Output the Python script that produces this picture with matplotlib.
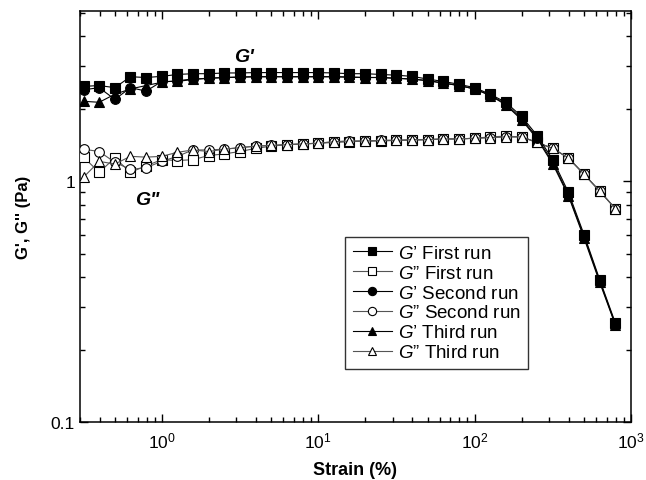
import matplotlib
matplotlib.use("Agg")
import matplotlib.pyplot as plt
from matplotlib.ticker import LogLocator, FixedLocator, FixedFormatter, NullFormatter

plt.rcParams['font.family'] = ['Liberation Sans', 'DejaVu Sans']
plt.rcParams['mathtext.fontset'] = 'custom'
plt.rcParams['mathtext.rm'] = 'Liberation Sans'
plt.rcParams['mathtext.it'] = 'Liberation Sans:italic'
plt.rcParams['mathtext.bf'] = 'Liberation Sans:bold'

# Strain amplitude sweep (%)
strain = [0.316, 0.398, 0.501, 0.631, 0.794, 1.0, 1.26, 1.58, 2.0, 2.51,
          3.16, 3.98, 5.01, 6.31, 7.94, 10.0, 12.6, 15.8, 20.0, 25.1,
          31.6, 39.8, 50.1, 63.1, 79.4, 100.0, 126.0, 158.0, 200.0, 251.0,
          316.0, 398.0, 501.0, 631.0, 794.0]

# Storage modulus G' (Pa)
gp_run1 = [2.48, 2.50, 2.45, 2.72, 2.70, 2.73, 2.78, 2.80, 2.80, 2.82,
           2.82, 2.83, 2.83, 2.83, 2.83, 2.83, 2.82, 2.80, 2.80, 2.78,
           2.76, 2.73, 2.66, 2.60, 2.53, 2.45, 2.30, 2.13, 1.86, 1.55,
           1.23, 0.90, 0.60, 0.39, 0.258]
gp_run2 = [2.40, 2.45, 2.19, 2.45, 2.37, 2.60, 2.60, 2.65, 2.68, 2.70,
           2.71, 2.72, 2.72, 2.72, 2.72, 2.72, 2.72, 2.71, 2.70, 2.70,
           2.68, 2.66, 2.62, 2.56, 2.50, 2.42, 2.28, 2.10, 1.82, 1.52,
           1.20, 0.88, 0.59, 0.385, 0.255]
gp_run3 = [2.15, 2.13, 2.30, 2.42, 2.50, 2.58, 2.62, 2.66, 2.68, 2.70,
           2.71, 2.72, 2.72, 2.72, 2.72, 2.72, 2.72, 2.71, 2.70, 2.70,
           2.68, 2.66, 2.62, 2.56, 2.50, 2.42, 2.27, 2.08, 1.80, 1.50,
           1.18, 0.87, 0.58, 0.38, 0.253]

# Loss modulus G'' (Pa)
gpp_run1 = [1.26, 1.09, 1.25, 1.09, 1.16, 1.23, 1.22, 1.23, 1.28, 1.30,
            1.33, 1.37, 1.40, 1.42, 1.43, 1.44, 1.45, 1.46, 1.47, 1.47,
            1.48, 1.48, 1.49, 1.50, 1.50, 1.51, 1.53, 1.54, 1.53, 1.45,
            1.37, 1.25, 1.07, 0.91, 0.77]
gpp_run2 = [1.36, 1.33, 1.20, 1.12, 1.14, 1.21, 1.27, 1.35, 1.35, 1.36,
            1.38, 1.40, 1.41, 1.42, 1.43, 1.44, 1.46, 1.47, 1.47, 1.48,
            1.48, 1.49, 1.49, 1.50, 1.50, 1.51, 1.52, 1.53, 1.53, 1.45,
            1.37, 1.25, 1.07, 0.91, 0.77]
gpp_run3 = [1.04, 1.21, 1.18, 1.27, 1.26, 1.27, 1.32, 1.35, 1.33, 1.36,
            1.38, 1.40, 1.41, 1.42, 1.43, 1.44, 1.46, 1.47, 1.47, 1.48,
            1.48, 1.49, 1.49, 1.50, 1.50, 1.51, 1.52, 1.53, 1.53, 1.45,
            1.37, 1.25, 1.07, 0.91, 0.77]

labels = [r"$\mathit{G’}$ First run", r"$\mathit{G”}$ First run",
          r"$\mathit{G’}$ Second run", r"$\mathit{G”}$ Second run",
          r"$\mathit{G’}$ Third run", r"$\mathit{G”}$ Third run"]

fig = plt.figure(figsize=(6.46, 4.81), dpi=100)
ax = fig.add_axes([0.1238, 0.1206, 0.853, 0.8544])

ms = 7
lw = 0.8
series = [
    (gp_run1, 's', 'black', 'black', labels[0], 6),
    (gpp_run1, 's', 'white', '#555555', labels[1], 3),
    (gp_run2, 'o', 'black', 'black', labels[2], 5),
    (gpp_run2, 'o', 'white', '#555555', labels[3], 3.5),
    (gp_run3, '^', 'black', 'black', labels[4], 4),
    (gpp_run3, '^', 'white', '#555555', labels[5], 4.5),
]
for vals, mk, face, lc, lab, z in series:
    ax.plot(strain, vals, color=lc, lw=lw, marker=mk, ms=ms,
            markerfacecolor=face, markeredgecolor='black', markeredgewidth=0.8,
            label=lab, zorder=z)

ax.set_xscale('log')
ax.set_yscale('log')
ax.set_xlim(0.3, 1000)
ax.set_ylim(0.1, 5.1)

ax.xaxis.set_major_locator(LogLocator(base=10, numticks=10))
ax.xaxis.set_minor_locator(LogLocator(base=10, subs=range(2, 10), numticks=20))
ax.xaxis.set_minor_formatter(NullFormatter())
ax.yaxis.set_major_locator(FixedLocator([0.1, 1]))
ax.yaxis.set_major_formatter(FixedFormatter(['0.1', '1']))
ax.yaxis.set_minor_locator(LogLocator(base=10, subs=range(2, 10), numticks=20))
ax.yaxis.set_minor_formatter(NullFormatter())

ax.tick_params(which='both', direction='in', top=True, right=True,
               labelsize=12.5, width=1.0)
ax.tick_params(which='major', length=6)
ax.tick_params(which='minor', length=3.5)
ax.tick_params(axis='x', which='major', pad=6)
for sp in ax.spines.values():
    sp.set_linewidth(1.1)

ax.set_xlabel('Strain (%)', fontsize=13, fontweight='bold', labelpad=8)
ax.set_ylabel("G', G'' (Pa)", fontsize=12, fontweight='bold', labelpad=14)

ax.text(2.9, 3.3, "G'", fontsize=14, fontweight='bold', style='italic',
        ha='left', va='center')
ax.text(0.67, 0.84, 'G"', fontsize=14, fontweight='bold', style='italic',
        ha='left', va='center')

leg = ax.legend(loc='upper left', bbox_to_anchor=(0.481, 0.450), fontsize=13.5,
                frameon=True, fancybox=False, edgecolor='black',
                handlelength=2.1, handletextpad=0.3, borderpad=0.4,
                labelspacing=0.15, borderaxespad=0, markerscale=0.85)
leg.get_frame().set_linewidth(1.0)

fig.savefig('out.png', dpi=100)
